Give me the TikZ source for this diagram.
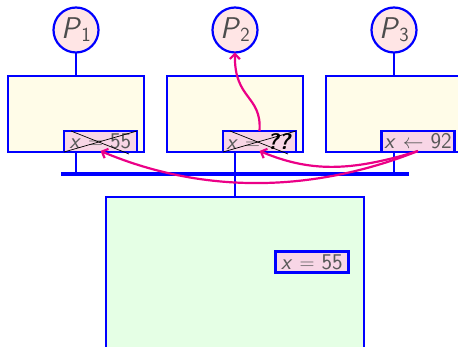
\documentclass[tikz,border=0pt]{standalone}
\usepackage{fontspec}
\usetikzlibrary{arrows.meta}
\begin{document}
\begin{tikzpicture}[x=1pt,y=-1pt,
  wire/.style={draw=blue,line width=2.2pt},
  proc/.style={circle,wire,fill=cpink,minimum size=45pt,inner sep=0pt,outer sep=0pt,text=black!70,font=\sffamily\fontsize{30}{32}\selectfont},
  cache/.style={rectangle,wire,fill=cyellow,minimum width=136pt,minimum height=76pt,outer sep=0pt},
  mem/.style={rectangle,wire,fill=cgreen,minimum width=258pt,minimum height=200pt,outer sep=0pt},
  reg/.style={rectangle,wire,fill=creg,minimum width=73pt,minimum height=21pt,inner sep=0pt,outer sep=0pt,text=black!65,font=\sffamily\fontsize{22.5}{24}\selectfont},
  link/.style={draw=blue,line width=2.2pt},
  busline/.style={draw=blue,line width=4.2pt},
  flow/.style={draw=cflow,line width=2.2pt,-{Straight Barb[length=5pt,width=10pt]}},
  strike/.style={draw=black,line width=0.7pt}]
\definecolor{cpink}{RGB}{255,229,229}
\definecolor{cyellow}{RGB}{255,252,232}
\definecolor{cgreen}{RGB}{229,255,229}
\definecolor{creg}{RGB}{248,214,230}
\definecolor{cflow}{RGB}{235,0,135}
\useasboundingbox (0,0) rectangle (458,347);
\clip (0,0) rectangle (458,347);
\node[proc] (p1) at (76,30) {\textit{P}\raisebox{-3pt}{\fontsize{20}{21}\selectfont 1}};
\node[proc] (p2) at (235,30) {\textit{P}\raisebox{-3pt}{\fontsize{20}{21}\selectfont 2}};
\node[proc] (p3) at (394,30) {\textit{P}\raisebox{-3pt}{\fontsize{20}{21}\selectfont 3}};
\node[cache] (c1) at (76,114) {};
\node[cache] (c2) at (235,114) {};
\node[cache] (c3) at (394,114) {};
\node[mem] (m) at (235,297) {};
\coordinate (busl) at (61,174);
\coordinate (busr) at (409,174);
\node[reg] (r1) at (100.5,141.5) {\textit{x} $=$ 55};
\node[reg] (r2) at (259.5,141.5) {\textit{x} $=$ \textcolor{black}{\textbf{\textit{??}}}};
\node[reg] (r3) at (418,141.5) {\textit{x} $\leftarrow$ 92};
\node[reg] (r4) at (312,262) {\textit{x} $=$ 55};
\draw[link] (p1) -- (c1);
\draw[link] (p3) -- (c3);
\draw[busline] (busl) -- (busr);
\draw[link] (c1.south) -- (c1.south |- busl);
\draw[link] (c3.south) -- (c3.south |- busl);
\draw[link] (c2.south) -- (m.north);
\draw[strike] (r1.south west) -- (r1.north east);
\draw[strike] ([xshift=7pt]r1.north west) -- ([xshift=-8pt,yshift=-2pt]r1.south east);
\draw[strike] (r2.south west) -- (r2.north east);
\draw[strike] ([xshift=7pt]r2.north west) -- ([xshift=-8pt,yshift=-2pt]r2.south east);
\draw[flow] (r2.north) .. controls (262,95) and (234,100) .. (p2.south);
\draw[flow] ([yshift=1pt]r3.south) .. controls (350,172) and (310,172) .. ([yshift=1pt]r2.south);
\draw[flow] ([yshift=1pt]r3.south) .. controls (320,190) and (210,197) .. ([yshift=1pt]r1.south);
\end{tikzpicture}
\end{document}
